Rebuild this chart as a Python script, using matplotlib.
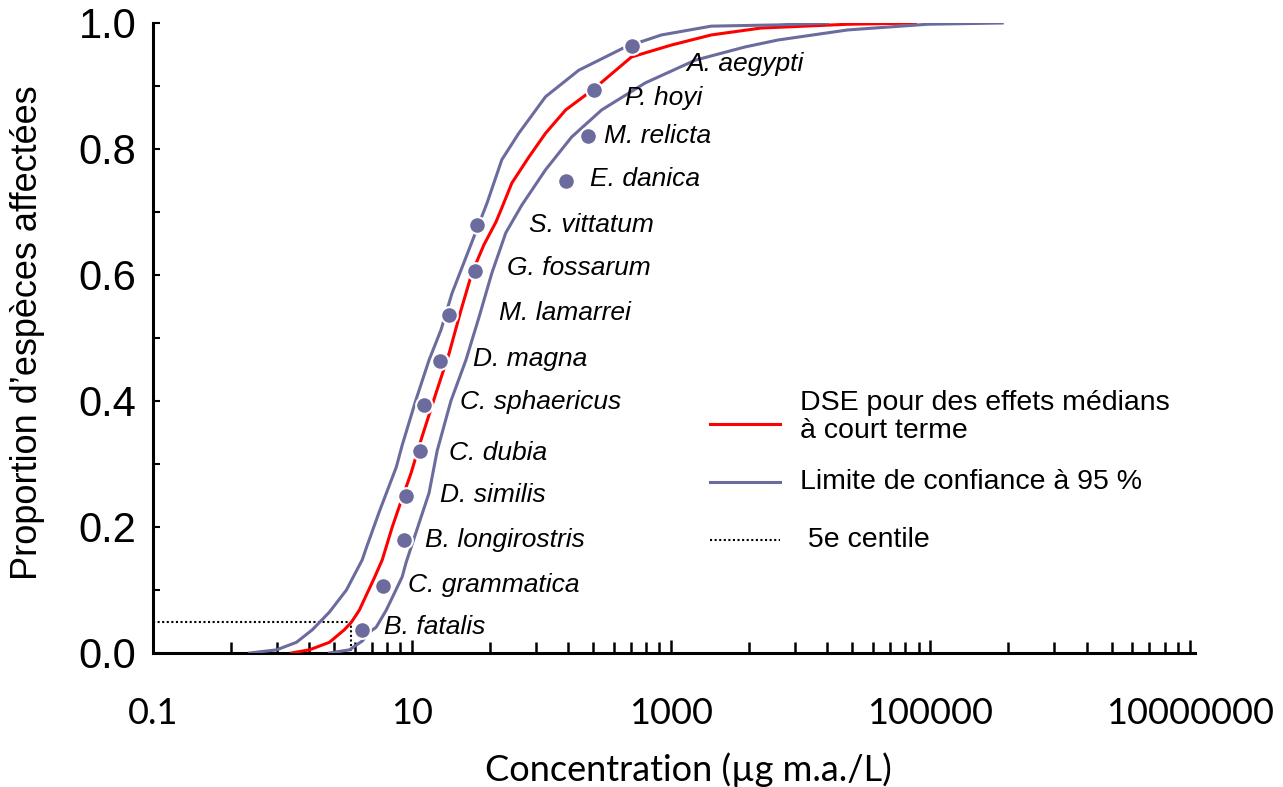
import matplotlib
matplotlib.use("Agg")
import matplotlib.pyplot as plt
from matplotlib.lines import Line2D
from matplotlib.ticker import FixedLocator, NullFormatter, FixedFormatter

# --- data ---
red_conc = [1.17, 1.61, 2.30, 3.00, 3.40, 3.91, 4.43, 5.10, 5.88, 7.02, 7.94, 9.82,
            11.7, 13.5, 15.3, 19.3, 23.8, 28.9, 35.8, 44.3, 48.4, 58.8, 79.4, 107,
            153, 251, 492, 1000, 2030, 4920, 23000, 76700]
red_prop = [0.0, 0.005, 0.017, 0.037, 0.049, 0.068, 0.092, 0.119, 0.148, 0.200, 0.232, 0.286,
            0.338, 0.378, 0.413, 0.476, 0.544, 0.603, 0.648, 0.684, 0.703, 0.746, 0.787, 0.825,
            0.862, 0.895, 0.946, 0.965, 0.981, 0.992, 0.998, 1.0]

low_conc = [0.557, 0.899, 1.28, 1.70, 2.30, 3.11, 4.12, 4.43, 5.57, 7.54, 8.38, 10.7,
            13.5, 16.7, 20.3, 27.4, 37.8, 49.2, 66.5, 107, 193, 443, 838, 2030, 6650, 16100]
low_prop = [0.0, 0.005, 0.017, 0.037, 0.065, 0.100, 0.148, 0.167, 0.224, 0.295, 0.330, 0.402,
            0.465, 0.513, 0.571, 0.640, 0.714, 0.783, 0.825, 0.883, 0.925, 0.962, 0.981, 0.995,
            0.997, 1.0]

up_conc = [2.30, 3.28, 4.12, 4.67, 5.28, 6.31, 8.38, 8.99, 11.3, 13.5, 15.6, 19.9, 26.0,
           32.8, 41.2, 52.8, 70.2, 107, 170, 290, 631, 1530, 3710, 6650, 23000, 94800, 358000]
up_prop = [0.0, 0.005, 0.019, 0.033, 0.041, 0.068, 0.121, 0.144, 0.206, 0.254, 0.321, 0.400,
           0.465, 0.533, 0.603, 0.667, 0.711, 0.767, 0.819, 0.862, 0.905, 0.941, 0.962, 0.973,
           0.989, 0.998, 1.0]

species = ["B. fatalis", "C. grammatica", "B. longirostris", "D. similis", "C. dubia",
           "C. sphaericus", "D. magna", "M. lamarrei", "G. fossarum", "S. vittatum",
           "E. danica", "M. relicta", "P. hoyi", "A. aegypti"]
sp_conc = [4.10, 5.98, 8.7, 8.9, 11.5, 12.4, 16.3, 19.3, 30.5, 31.8, 154, 227, 254, 495]
sp_prop = [0.036, 0.107, 0.179, 0.250, 0.321, 0.393, 0.464, 0.536, 0.607, 0.679,
           0.750, 0.821, 0.893, 0.964]

hc5 = 3.4
p5 = 0.05

x_major = [0.1, 10, 1000, 100000, 10000000]
x_major_labels = ["0.1", "10", "1000", "100000", "10000000"]

legend_labels = ["DSE pour des effets médians\nà court terme",
                 "Limite de confiance à 95 %", " 5e centile"]

# label offsets (pixels) from each point
label_dx = [22, 25, 21, 34, 29, 36, 33, 50, 32, 52, 24, 16, 31, 55]
label_dy = [3, 1, 0, 0, -2, 3, 2, 2, 3, 0, 1, 0, -8, -18]

red = "#ff0000"
blue = "#6b6b9e"
W, H = 1283, 787

fig = plt.figure(figsize=(W / 100, H / 100), dpi=100)
ax = fig.add_axes([153 / W, 1 - 653 / H, (1195 - 153) / W, 630 / H])

ax.plot(red_conc, red_prop, color=red, lw=2.2, zorder=3)
ax.plot(low_conc, low_prop, color=blue, lw=2.2, zorder=3)
ax.plot(up_conc, up_prop, color=blue, lw=2.2, zorder=3)
ax.plot([0.1, hc5, hc5], [p5, p5, 0], color="black", lw=1.5, ls=(0, (1, 1.2)), zorder=2)
ax.plot(sp_conc, sp_prop, "o", color=blue, ms=12, mec="white", mew=1.5, zorder=4)

for name, xv, yv, dx, dy in zip(species, sp_conc, sp_prop, label_dx, label_dy):
    ax.annotate(name, (xv, yv), xytext=(dx, dy), textcoords="offset pixels",
                ha="left", va="center", fontsize=19, style="italic",
                family="Liberation Sans")

ax.set_xscale("log")
ax.set_xlim(0.1, 1.1e7)
ax.set_ylim(0, 1.0)

minor = [b * k * k for b in x_major[:-1] for k in range(2, 10)]
ax.xaxis.set_major_locator(FixedLocator(x_major))
ax.xaxis.set_major_formatter(FixedFormatter(x_major_labels))
ax.xaxis.set_minor_locator(FixedLocator(minor))
ax.xaxis.set_minor_formatter(NullFormatter())

ax.set_yticks([i / 10 for i in range(11)])
ax.set_yticklabels([f"{i / 10:.1f}" if i % 2 == 0 else "" for i in range(11)])

for s in ["top", "right"]:
    ax.spines[s].set_visible(False)
for s in ["left", "bottom"]:
    ax.spines[s].set_linewidth(2.2)

ax.tick_params(axis="x", which="major", direction="in", length=9.5, width=1.8, pad=32)
ax.tick_params(axis="x", which="minor", direction="in", length=8, width=1.8)
ax.tick_params(axis="y", direction="in", length=5, width=1.5, pad=12)
for t in ax.get_xticklabels():
    t.set_family("Lato")
    t.set_fontsize(26)
for t in ax.get_yticklabels():
    t.set_family("Liberation Sans")
    t.set_fontsize(30)

ax.set_xlabel("Concentration (µg m.a./L)", family="Lato", fontsize=26)
ax.xaxis.set_label_coords((688 - 153) / (1195 - 153), -(770 - 653) / 630)
ax.xaxis.label.set_va("center")
ax.set_ylabel("Proportion d’espèces affectées", family="Liberation Sans", fontsize=26)
ax.yaxis.set_label_coords(-(153 - 28) / (1195 - 153), (653 - 333) / 630)
ax.yaxis.label.set_va("center")

# legend drawn by hand to match the spacing of the original
leg_styles = [dict(color=red, lw=2.2), dict(color=blue, lw=2.2),
              dict(color="black", lw=1.5, ls=(0, (1, 1.2)))]
leg_line_y = [424, 482, 540]
leg_text_y = [417, 482, 540]
for lab, sty, ly, ty in zip(legend_labels, leg_styles, leg_line_y, leg_text_y):
    fig.add_artist(Line2D([710 / W, 780 / W], [1 - ly / H, 1 - ly / H], **sty))
    fig.text(800 / W, 1 - ty / H, lab, ha="left", va="center", fontsize=20.5,
             family="Liberation Sans", linespacing=1.05)

fig.savefig("out.png", dpi=100)
